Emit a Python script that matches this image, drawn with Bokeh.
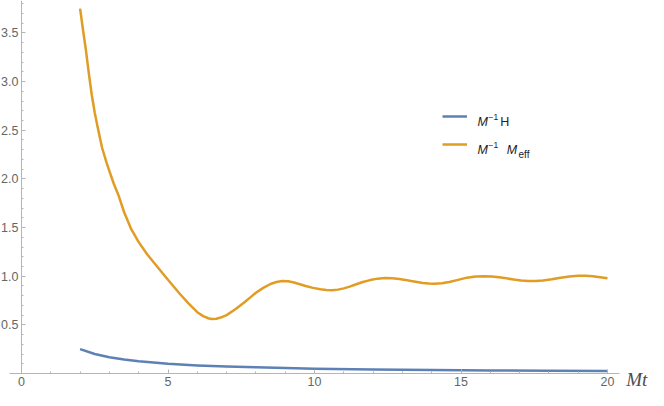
import numpy as np
from bokeh.plotting import figure
from bokeh.models import FixedTicker, Label, Legend, LegendItem, Range1d, PrintfTickFormatter
from bokeh.embed import file_html
from bokeh.resources import INLINE

# ---- data ----
t_h = [2.0, 2.5, 3.0, 3.5, 4.0, 5.0, 6.0, 7.0, 8.0, 10.0, 12.0, 14.0, 16.0, 18.0, 20.0]
h_vals = [0.25, 0.20, 0.167, 0.143, 0.125, 0.10, 0.083, 0.071, 0.063, 0.05, 0.042,
          0.036, 0.031, 0.028, 0.025]

t_eff = [2.0, 2.1, 2.2, 2.3, 2.4, 2.5, 2.6, 2.75, 2.9, 3.0, 3.15, 3.3, 3.5, 3.75, 4.0,
         4.3, 4.6, 4.9, 5.15, 5.4, 5.7, 6.0, 6.2, 6.4, 6.5, 6.65, 6.8, 7.0, 7.3, 7.6,
         7.8, 8.0, 8.25, 8.5, 8.7, 8.9, 9.1, 9.3, 9.5, 9.7, 9.95, 10.2, 10.4, 10.6,
         10.8, 11.0, 11.2, 11.4, 11.65, 11.9, 12.15, 12.4, 12.65, 12.9, 13.1, 13.3,
         13.5, 13.7, 13.9, 14.1, 14.35, 14.6, 14.9, 15.2, 15.5, 15.8, 16.05, 16.3,
         16.55, 16.8, 17.05, 17.3, 17.55, 17.8, 18.1, 18.4, 18.7, 19.0, 19.25, 19.5,
         19.75, 20.0]
eff_vals = [3.75, 3.53, 3.32, 3.08, 2.86, 2.68, 2.53, 2.32, 2.17, 2.08, 1.95, 1.84, 1.66,
            1.48, 1.35, 1.22, 1.11, 1.00, 0.91, 0.82, 0.72, 0.63, 0.59, 0.565, 0.56,
            0.562, 0.575, 0.60, 0.66, 0.73, 0.78, 0.83, 0.88, 0.92, 0.94, 0.95, 0.948,
            0.935, 0.918, 0.90, 0.88, 0.865, 0.857, 0.855, 0.862, 0.875, 0.893, 0.915,
            0.94, 0.96, 0.975, 0.982, 0.98, 0.972, 0.962, 0.95, 0.94, 0.93, 0.924,
            0.922, 0.927, 0.94, 0.962, 0.985, 0.997, 1.0, 0.997, 0.99, 0.978, 0.965,
            0.955, 0.95, 0.951, 0.955, 0.968, 0.985, 0.998, 1.005, 1.005, 1.0, 0.99,
            0.98]

x_major = [0, 5, 10, 15, 20]
x_minor = [v for v in range(0, 21) if v % 5 != 0]
y_major = [0.5, 1.0, 1.5, 2.0, 2.5, 3.0, 3.5]
y_minor = [round(v, 1) for v in np.arange(0.1, 3.85, 0.1) if round(v * 10) % 5 != 0]

BLUE = "#5E81B5"
ORANGE = "#E19C24"
AXIS = "#b5b5b5"
TICKTXT = "#666666"

W, H = 648, 390
X0_PX, Y0_PX = 21, 373          # canvas position of the origin
SX, SY = 29.3, 97.3             # pixels per unit
x_range = Range1d(-X0_PX / SX, (W - X0_PX) / SX)
y_range = Range1d(-(H - Y0_PX) / SY, Y0_PX / SY)

p = figure(width=W, height=H, output_backend="svg", toolbar_location=None,
           x_range=x_range, y_range=y_range,
           min_border_left=0, min_border_right=0, min_border_top=0, min_border_bottom=0)
p.outline_line_color = None
p.grid.visible = False
p.background_fill_color = "white"

for ax, major, minor in ((p.xaxis[0], x_major, x_minor), (p.yaxis[0], y_major, y_minor)):
    ax.ticker = FixedTicker(ticks=major, minor_ticks=minor)
    ax.fixed_location = 0
    ax.axis_line_color = AXIS
    ax.major_tick_line_color = AXIS
    ax.minor_tick_line_color = AXIS
    ax.major_tick_in = 4
    ax.major_tick_out = 0
    ax.minor_tick_in = 2
    ax.minor_tick_out = 0
    ax.major_label_text_color = TICKTXT
    ax.major_label_text_font = "Liberation Sans"
    ax.major_label_text_font_size = "12.5px"
    ax.major_label_standoff = 3
p.xaxis[0].bounds = (-0.42, 20.4)
p.yaxis[0].bounds = (0, Y0_PX / SY)
p.yaxis[0].formatter = PrintfTickFormatter(format="%.1f")

r_h = p.line(t_h, h_vals, line_color=BLUE, line_width=2.5, line_join="round")
r_eff = p.line(t_eff, eff_vals, line_color=ORANGE, line_width=2.5, line_join="round")

lx, r1 = 442, 274.5
r2 = r1 - 28
legend = Legend(items=[LegendItem(label=" ", renderers=[r_h]),
                       LegendItem(label=" ", renderers=[r_eff])],
                location=(lx, r1 - 38), padding=0, margin=0, spacing=8,
                glyph_width=25, glyph_height=20, label_height=20, label_width=1,
                border_line_alpha=0, background_fill_alpha=0)
p.add_layout(legend)

TXT = "#222222"
def lab(x, y, text, size="12.5px", style="normal"):
    p.add_layout(Label(x=x, y=y, x_units="screen", y_units="screen", text=text,
                       text_font="Liberation Sans", text_font_size=size,
                       text_font_style=style, text_color=TXT,
                       text_baseline="alphabetic", text_align="left"))

lab(lx + 35, r1 - 5.7, "M", style="italic")
lab(lx + 46, r1 - 0.7, "\u22121", size="8.5px")
lab(lx + 57.7, r1 - 5.7, "H")
lab(lx + 35, r2 - 5.5, "M", style="italic")
lab(lx + 46, r2 - 0.5, "\u22121", size="8.5px")
lab(lx + 64.3, r2 - 5.5, "M", style="italic")
lab(lx + 76, r2 - 10.5, "eff", size="10px")

p.add_layout(Label(x=20.4, y=0, x_offset=7, y_offset=-6, text="Mt",
                   text_font="Liberation Serif", text_font_style="italic",
                   text_font_size="19px", text_color="#4d4d4d",
                   text_baseline="alphabetic", text_align="left"))

open("out.html", "w").write(file_html(p, INLINE))
